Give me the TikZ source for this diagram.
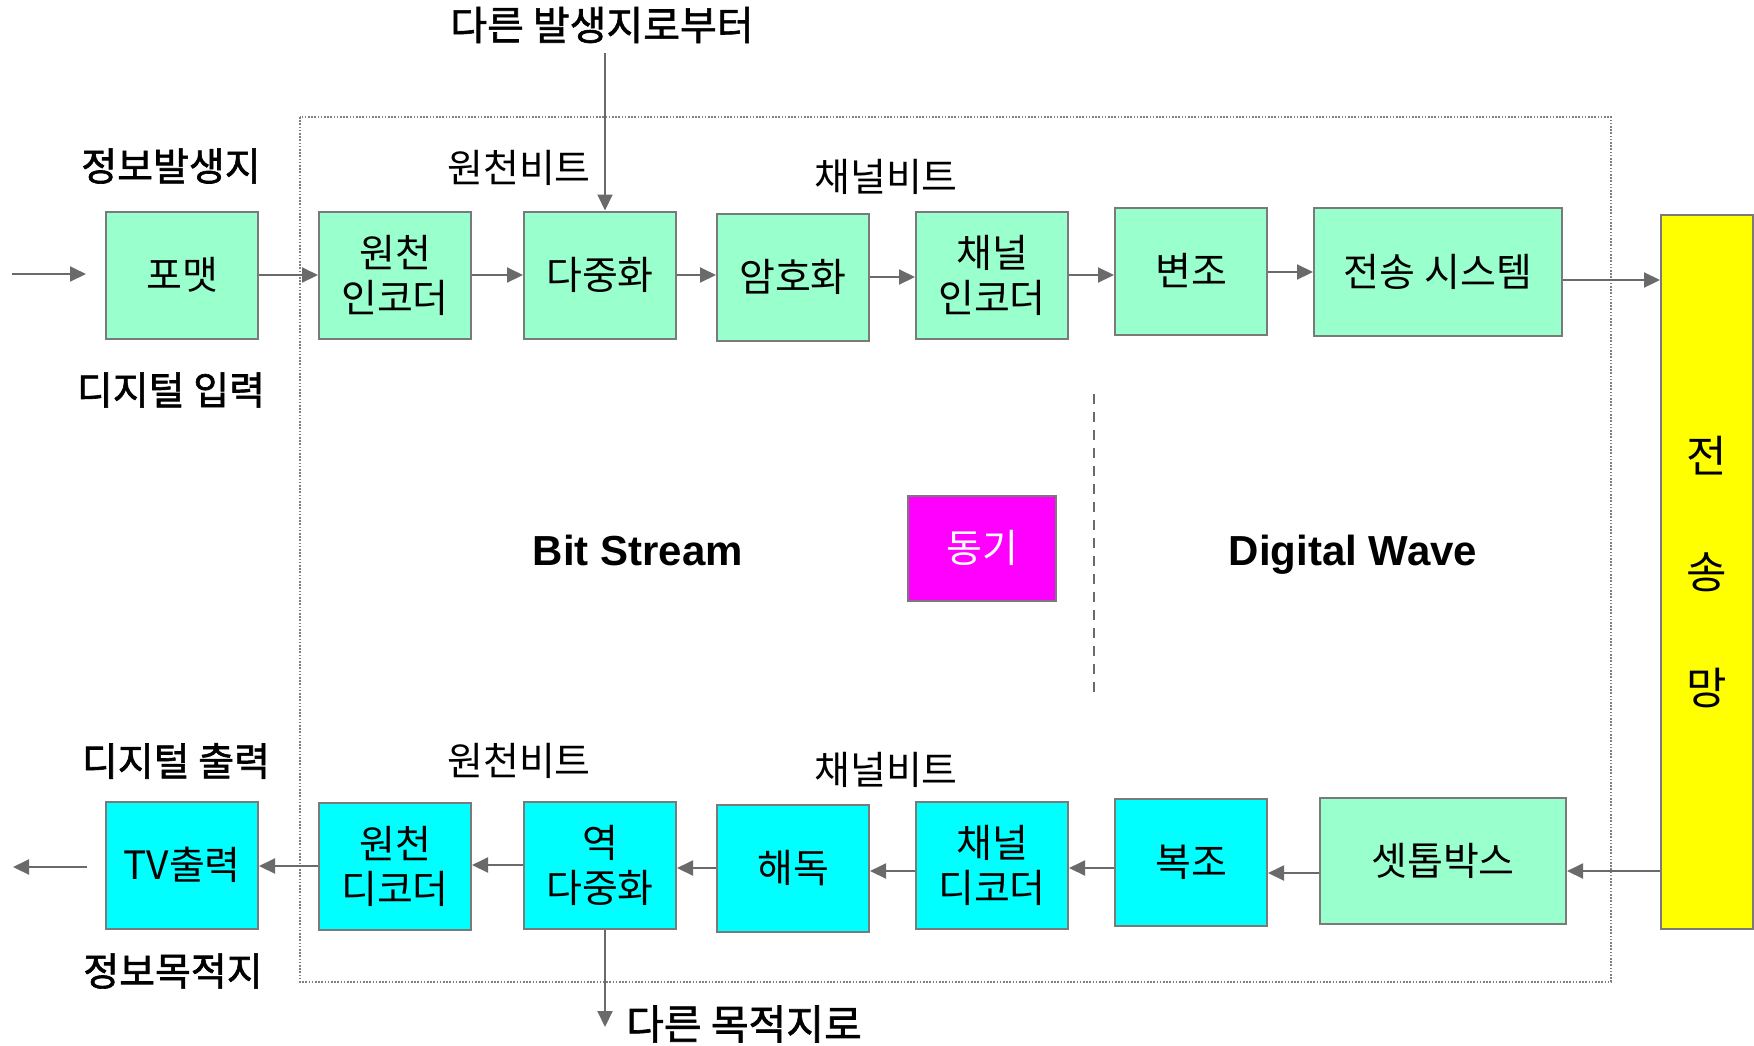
\documentclass[tikz,border=0pt]{standalone}
\usepackage{fontspec}
\setmainfont{Liberation Sans}
\newfontfamily\kr{Noto Sans CJK KR}
\newfontfamily\krb[FakeBold=1.6]{Noto Sans CJK KR}
\usetikzlibrary{arrows.meta}
\definecolor{mint}{HTML}{99FFCC}
\definecolor{aqua}{HTML}{00FFFF}
\definecolor{fuchsia}{HTML}{FF00FF}
\definecolor{lemon}{HTML}{FFFF00}
\definecolor{edgegray}{HTML}{7A7A7A}
\definecolor{arrgray}{HTML}{6A6A6A}
\begin{document}
\begin{tikzpicture}[x=0.5pt,y=-0.5pt,
  blk/.style={draw=edgegray, line width=1pt, minimum width=76pt, minimum height=63.5pt, inner sep=0pt, align=center, font=\kr\fontsize{19.5}{22.5}\selectfont},
  encbox/.style={blk, fill=mint},
  decbox/.style={blk, fill=aqua},
  lab/.style={font=\kr\fontsize{19.5}{22}\selectfont},
  blab/.style={font=\krb\fontsize{19.5}{22}\selectfont},
  conn/.style={draw=arrgray, line width=1pt, -{Triangle[length=8pt,width=7.5pt]}, fill=arrgray},
]
\useasboundingbox (0,0) rectangle (1754,1045);
% dotted frame
\draw[draw=gray, line width=0.6pt, dash pattern=on 0.8pt off 0.8pt] (300,117) rectangle (1611,982);
\draw[draw=arrgray, line width=1pt, dash pattern=on 5pt off 4pt] (1094,394) -- (1094,696);

% top row
\node[encbox] (fmt) at (182,275) {포맷};
\node[encbox] (senc) at (395,275) {원천\\인코더};
\node[encbox] (mux) at (600,275) {다중화};
\node[encbox] (crypt) at (793,277) {암호화};
\node[encbox] (cenc) at (992,275) {채널\\인코더};
\node[encbox] (mod) at (1191,271) {변조};
\node[encbox, minimum width=124pt, minimum height=64pt] (tx) at (1438,272) {전송 시스템};

% network
\node[draw=edgegray, fill=lemon, line width=1pt, minimum width=46pt, minimum height=357pt, inner sep=0pt, align=center, font=\kr\fontsize{22}{58}\selectfont] (net) at (1707,572) {전\\송\\망};

% bottom row
\node[decbox] (tv) at (182,865) {TV출력};
\node[decbox] (sdec) at (395,866) {원천\\디코더};
\node[decbox] (demux) at (600,865) {역\\다중화};
\node[decbox] (dcr) at (793,868) {해독};
\node[decbox] (cdec) at (992,865) {채널\\디코더};
\node[decbox] (dem) at (1191,862) {복조};
\node[encbox, minimum width=123pt, minimum height=63pt] (stb) at (1443,861) {셋톱박스};

% sync
\node[draw=edgegray, fill=fuchsia, line width=1pt, minimum width=74pt, minimum height=52.5pt, inner sep=0pt, text=white, font=\kr\fontsize{19.5}{22}\selectfont] (sync) at (982,548) {동기};

\node[font=\bfseries\fontsize{21}{25}\selectfont] (bs) at (638,550) {Bit Stream};
\node[font=\bfseries\fontsize{21}{25}\selectfont] (dw) at (1353,555) {Digital Wave};

% labels
\node[blab] (src) at (171,166) {정보발생지};
\node[blab] (din) at (171,390) {디지털 입력};
\node[blab] (dout) at (176,761) {디지털 출력};
\node[blab] (dst) at (173,971) {정보목적지};
\node[lab] (sb1) at (519,168) {원천비트};
\node[lab] (cb1) at (886,177) {채널비트};
\node[lab] (sb2) at (519,761) {원천비트};
\node[lab] (cb2) at (886,770) {채널비트};
\node[font=\krb\fontsize{20}{24}\selectfont] (from) at (602,25) {다른 발생지로부터};
\node[font=\krb\fontsize{20.5}{24}\selectfont] (to) at (744,1024) {다른 목적지로};

% free ends
\coordinate (inS) at (12,274);
\coordinate (inE) at (86,274);
\coordinate (outS) at (87,867);
\coordinate (outE) at (13,867);
\coordinate (topS) at (605,53);
\coordinate (botE) at (605,1027);

% connectors top
\draw[conn] (inS) -- (inE);
\draw[conn] (fmt.east) -- (fmt.east -| senc.west);
\draw[conn] (senc.east) -- (senc.east -| mux.west);
\draw[conn] (mux.east) -- (mux.east -| crypt.west);
\draw[conn] (crypt.east) -- (crypt.east -| cenc.west);
\draw[conn] (cenc.east) -- (cenc.east -| mod.west);
\draw[conn] (mod.east |- tx.west) -- (tx.west);
\draw[conn] ([yshift=-4pt]tx.east) -- ([yshift=-4pt]tx.east -| net.west);
\draw[conn] (topS) -- (topS |- mux.north);

% connectors bottom
\draw[conn] ([yshift=-5pt]stb.east -| net.west) -- ([yshift=-5pt]stb.east);
\draw[conn] ([yshift=-6pt]stb.west) -- ([yshift=-6pt]stb.west -| dem.east);
\draw[conn] ([yshift=-3pt]dem.west) -- ([yshift=-3pt]dem.west -| cdec.east);
\draw[conn] ([yshift=-3pt]cdec.west) -- ([yshift=-3pt]cdec.west -| dcr.east);
\draw[conn] (dcr.west) -- (dcr.west -| demux.east);
\draw[conn] (demux.west) -- (demux.west -| sdec.east);
\draw[conn] (sdec.west) -- (sdec.west -| tv.east);
\draw[conn] (outS) -- (outE);
\draw[conn] (botE |- demux.south) -- (botE);
\end{tikzpicture}
\end{document}
